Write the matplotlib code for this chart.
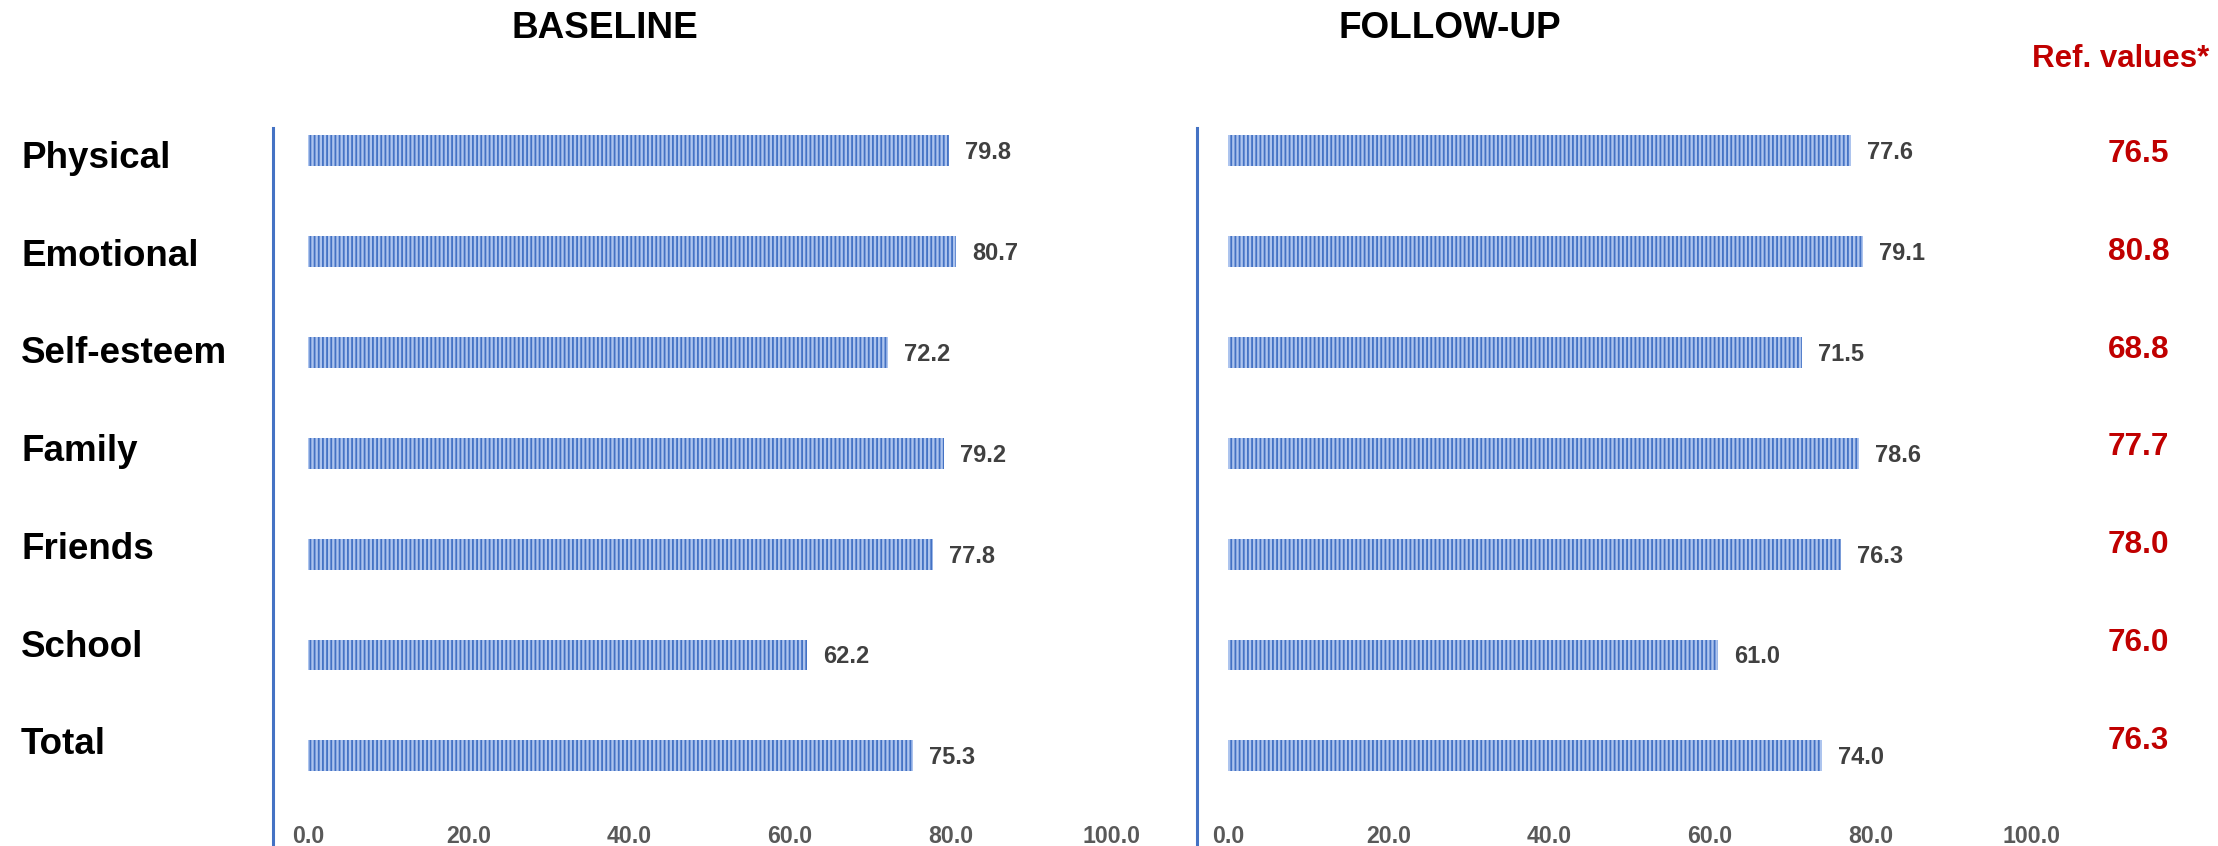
import matplotlib
matplotlib.use("Agg")
import matplotlib.pyplot as plt

# ----------------------------
# Data
# ----------------------------
categories = ["Physical", "Emotional", "Self-esteem", "Family", "Friends", "School", "Total"]
baseline = [79.8, 80.7, 72.2, 79.2, 77.8, 62.2, 75.3]
follow_up = [77.6, 79.1, 71.5, 78.6, 76.3, 61.0, 74.0]
ref_values = [76.5, 80.8, 68.8, 77.7, 78.0, 76.0, 76.3]
xticks = [0, 20, 40, 60, 80, 100]

# ----------------------------
# Style
# ----------------------------
plt.rcParams.update({
    "font.family": ["Liberation Sans", "DejaVu Sans"],
    "font.weight": "bold",
    "hatch.linewidth": 1.3,
})

BLUE = "#4472C4"
LIGHT = "#adc4ee"
W, H = 2218, 846

fig = plt.figure(figsize=(W / 100, H / 100), dpi=100)


def fx(px):
    return px / W


def fy(py):
    return 1 - py / H


def panel(left_px, zero_px, values, title, title_x):
    ppu = 8.03
    lo = -(zero_px - left_px) / ppu
    hi = 100
    width_px = (hi - lo) * ppu
    ax = fig.add_axes([fx(left_px), 0, fx(width_px), 1 - 128 / H])
    ax.barh(range(len(values)), values, height=0.307, color=LIGHT,
            edgecolor=BLUE, linewidth=0, hatch="||||")
    ax.set_xlim(lo, hi)
    ax.set_ylim(6.893, -0.223)
    for s in ["top", "right", "bottom"]:
        ax.spines[s].set_visible(False)
    ax.spines["left"].set_color(BLUE)
    ax.spines["left"].set_linewidth(2.2)
    ax.set_yticks([])
    ax.set_xticks(xticks)
    ax.set_xticklabels([f"{t:.1f}" for t in xticks])
    ax.tick_params(axis="x", length=0, pad=-15, labelsize=16.7, labelcolor="#595959")
    for lab in ax.get_xticklabels():
        lab.set_fontweight("bold")
    for i, v in enumerate(values):
        ax.annotate(f"{v:.1f}", (v, i), xytext=(11.5, -6.1), textcoords="offset points",
                    ha="left", va="baseline", fontsize=17, color="#404040",
                    fontweight="bold", annotation_clip=False)
    fig.text(fx(title_x), fy(29), title, ha="center", va="center",
             fontsize=26.6, fontweight="bold", color="black")
    return ax


panel(273, 308, baseline, "BASELINE", 605)
panel(1197, 1228, follow_up, "FOLLOW-UP", 1450)

# category labels
for i, c in enumerate(categories):
    fig.text(fx(21), fy(168 + i * 97.7), c, ha="left", va="baseline",
             fontsize=26.5, fontweight="bold", color="black")

# reference values
fig.text(fx(2121), fy(59), "Ref. values*", ha="center", va="center",
         fontsize=22.5, fontweight="bold", color="#C00000")
for i, r in enumerate(ref_values):
    fig.text(fx(2138.5), fy(162 + i * 97.8), f"{r:.1f}", ha="center", va="baseline",
             fontsize=22.7, fontweight="bold", color="#C00000")

fig.savefig("out.png", dpi=100)
